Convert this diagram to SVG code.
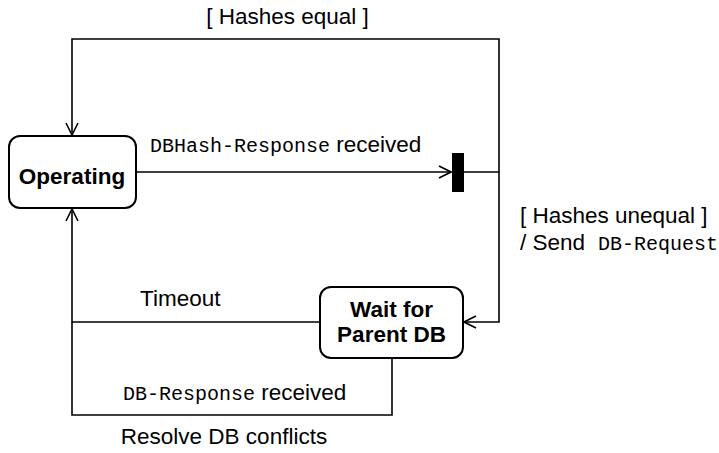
<svg xmlns="http://www.w3.org/2000/svg" width="719" height="453" viewBox="0 0 719 453">
<defs>
<style>
.sans{font-family:"Liberation Sans",Arial,Helvetica,sans-serif;font-size:22.5px;fill:#000}
.mono{font-family:"Liberation Mono","Courier New",monospace;font-size:20px}
.bold{font-family:"Liberation Sans",Arial,Helvetica,sans-serif;font-size:22.5px;font-weight:bold;fill:#000;text-anchor:middle}
.state{fill:#fff;stroke:#000;stroke-width:2}
.edge{fill:none;stroke:#000;stroke-width:1.6}
</style>
<marker id="open" viewBox="0 0 14 14" refX="13" refY="7" markerWidth="14" markerHeight="14" markerUnits="userSpaceOnUse" orient="auto">
<path d="M1,1 L13,7 L1,13" fill="none" stroke="#000" stroke-width="1.6"/>
</marker>
</defs>
<rect width="719" height="453" fill="#fff"/>
<g id="connectors">
<path class="edge" d="M499,172 L499,39 L72,39 L72,135" marker-end="url(#open)"/>
<path class="edge" d="M137,172 L451,172" marker-end="url(#open)"/>
<path class="edge" d="M464,172 L499,172 L499,322 L464,322" marker-end="url(#open)"/>
<path class="edge" d="M320,322 L72,322 L72,209" marker-end="url(#open)"/>
<path class="edge" d="M392,358 L392,415 L72,415 L72,322"/>
<text class="sans" x="287.5" y="24" text-anchor="middle">[ Hashes equal ]</text>
<text class="sans" x="150" y="152"><tspan class="mono">DBHash-Response</tspan> received</text>
<text class="sans" x="520" y="223">[ Hashes unequal ]</text>
<text class="sans" x="520" y="250">/ Send <tspan class="mono" x="598">DB-Request</tspan></text>
<text class="sans" x="140" y="306">Timeout</text>
<text class="sans" x="123" y="400"><tspan class="mono">DB-Response</tspan> received</text>
<text class="sans" x="224" y="444" text-anchor="middle">Resolve DB conflicts</text>
</g>
<g id="fork">
<rect x="452" y="153" width="12" height="39" fill="#000"/>
</g>
<g id="operating">
<rect class="state" x="9" y="136" width="127" height="72" rx="11"/>
<text class="bold" x="72" y="184">Operating</text>
</g>
<g id="wait">
<rect class="state" x="320" y="287" width="143" height="71" rx="11"/>
<text class="bold" x="391.5" y="317">Wait for</text>
<text class="bold" x="391.5" y="342">Parent DB</text>
</g>
</svg>
